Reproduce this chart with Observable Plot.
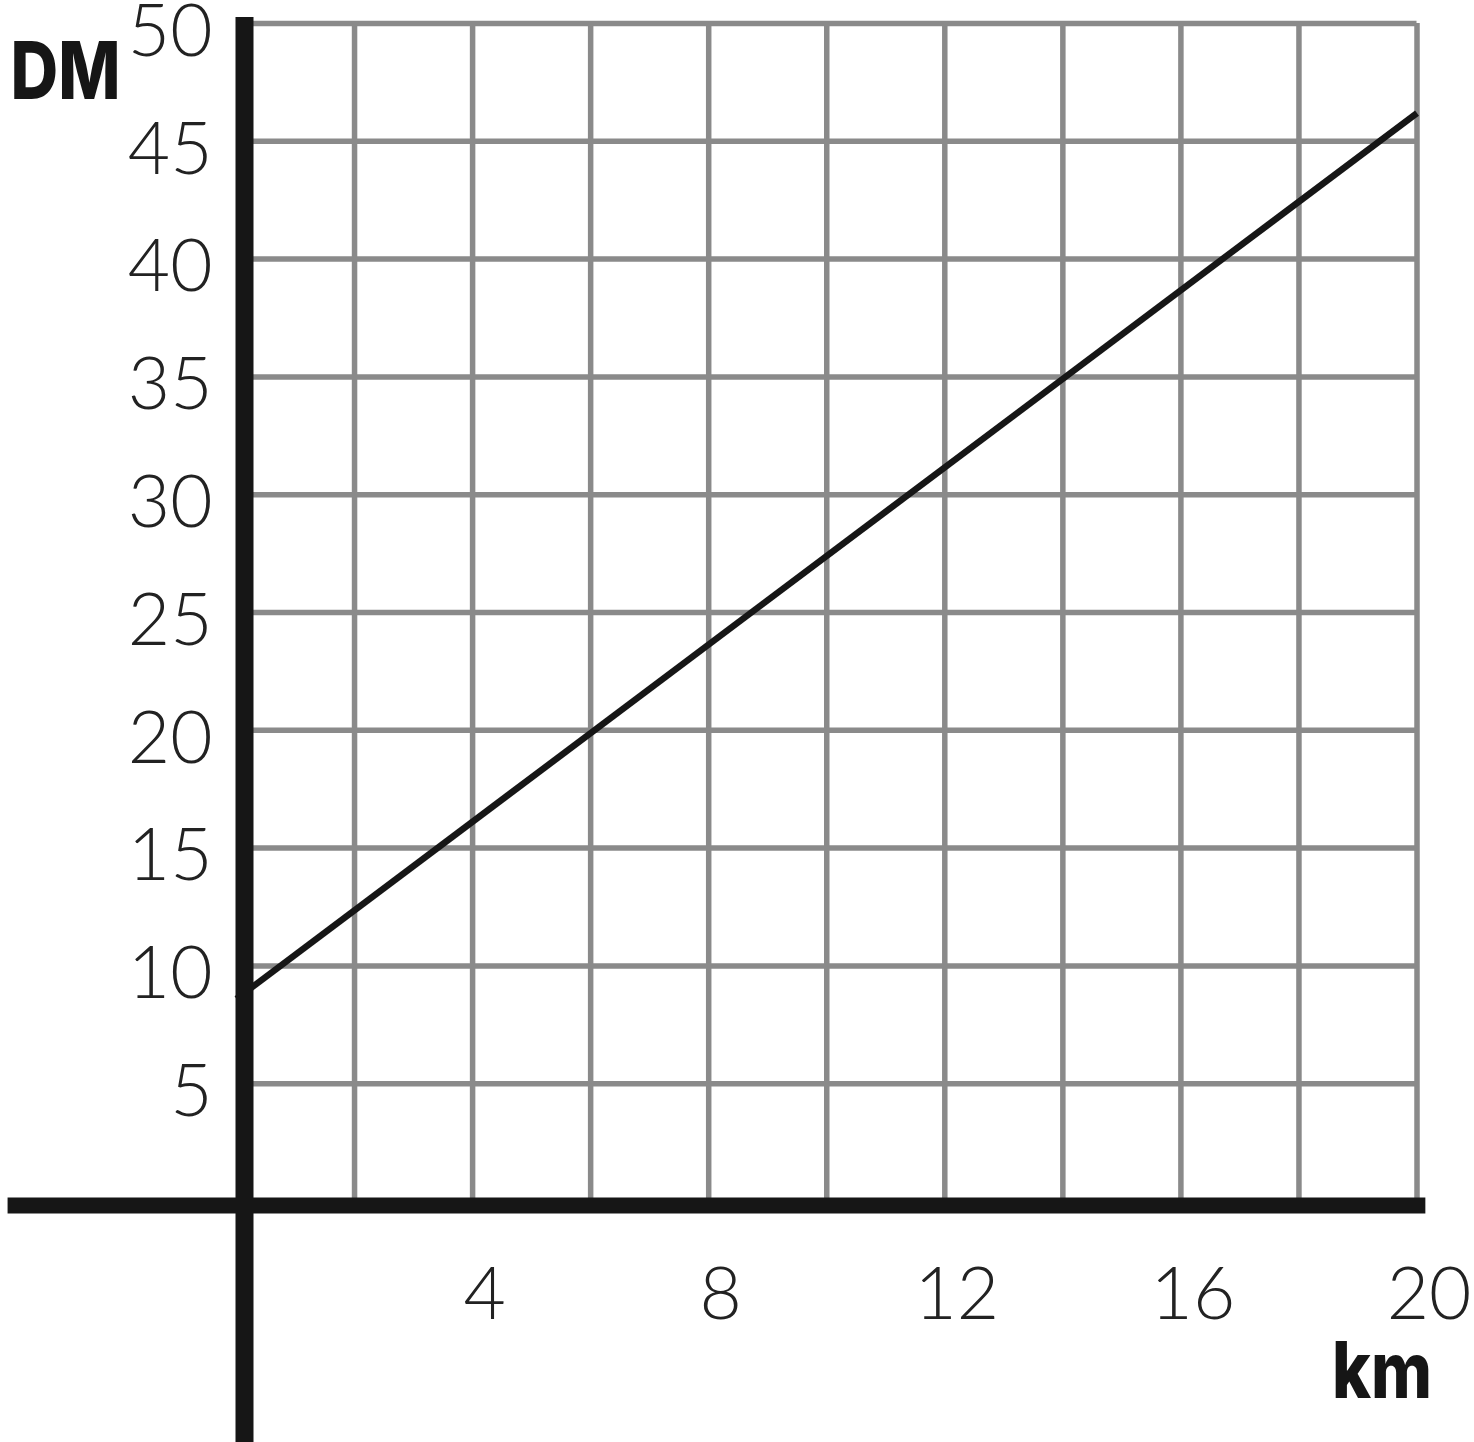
<!DOCTYPE html>
<html>
<head>
<meta charset="utf-8">
<script src="https://cdn.jsdelivr.net/npm/d3@7"></script>
<script src="https://cdn.jsdelivr.net/npm/@observablehq/plot@0.6"></script>
<style>
  html, body { margin: 0; padding: 0; background: #fff; }
  #chart svg { display: block; }
</style>
</head>
<body>
<div id="chart"></div>
<script>
// Data
const km = [0, 20];
const dm = [8.6, 46.2];
const xGrid = [2, 4, 6, 8, 10, 12, 14, 16, 18, 20];
const yGrid = [5, 10, 15, 20, 25, 30, 35, 40, 45, 50];
const xTickLabels = [4, 8, 12, 16, 20];
const yTickLabels = [5, 10, 15, 20, 25, 30, 35, 40, 45, 50];
const xAxisTitle = "km";
const yAxisTitle = "DM";

// Axis bar extents (data units; the bars run past the grid)
const vBarY = [-10.3, 50.25];
const hBarX = [-3.87, 20.15];

const rows = km.map((k, i) => ({km: k, dm: dm[i]}));
const ink = "#161616";
const gridColor = "#8a8a8a";
const numFont = "Lato, 'Noto Sans', sans-serif";
const boldFont = "Inter, 'DejaVu Sans', sans-serif";

const chart = Plot.plot({
  width: 1474,
  height: 1442,
  marginLeft: 236,
  marginRight: 57.5,
  marginTop: 23,
  marginBottom: 241,
  x: {domain: [0, 20]},
  y: {domain: [0, 50]},
  style: {background: "#fff", fontFamily: numFont},
  marks: [
    Plot.ruleX(xGrid, {y1: 0, y2: 50, stroke: gridColor, strokeWidth: 5.5}),
    Plot.ruleY(yGrid, {x1: 0, x2: 20, stroke: gridColor, strokeWidth: 5.5}),
    Plot.line(rows, {x: "km", y: "dm", stroke: ink, strokeWidth: 6.5, strokeLinecap: "butt"}),
    Plot.ruleX([0], {y1: vBarY[0], y2: vBarY[1], stroke: ink, strokeWidth: 18, dx: 8}),
    Plot.ruleY([0], {x1: hBarX[0], x2: hBarX[1], stroke: ink, strokeWidth: 16, dy: 4}),
    Plot.axisY(yTickLabels, {tickSize: 0, tickPadding: 24, fontSize: 73, dy: 9, color: "#222", fontWeight: 300, label: null}),
    Plot.axisX(xTickLabels, {tickSize: 0, tickPadding: 66, fontSize: 73, dx: 12, color: "#222", fontWeight: 300, label: null}),
    Plot.text([yAxisTitle], {frameAnchor: "top-left", text: d => d, textAnchor: "start", lineAnchor: "middle", dx: -226, dy: 50, fontSize: 80, fontWeight: 800, fontFamily: boldFont, fill: ink}),
    Plot.text([xAxisTitle], {frameAnchor: "bottom-right", text: d => d, textAnchor: "end", lineAnchor: "middle", dx: 15, dy: 172, fontSize: 78, fontWeight: 800, fontFamily: boldFont, fill: ink})
  ]
});

document.getElementById("chart").appendChild(chart);

// tighten the bold titles to the reference widths
d3.select(chart).selectAll("text").each(function() {
  const t = this.textContent;
  if (t === yAxisTitle) d3.select(this).attr("textLength", 110).attr("lengthAdjust", "spacingAndGlyphs");
  if (t === xAxisTitle) d3.select(this).attr("textLength", 100).attr("lengthAdjust", "spacingAndGlyphs");
});
</script>
</body>
</html>
